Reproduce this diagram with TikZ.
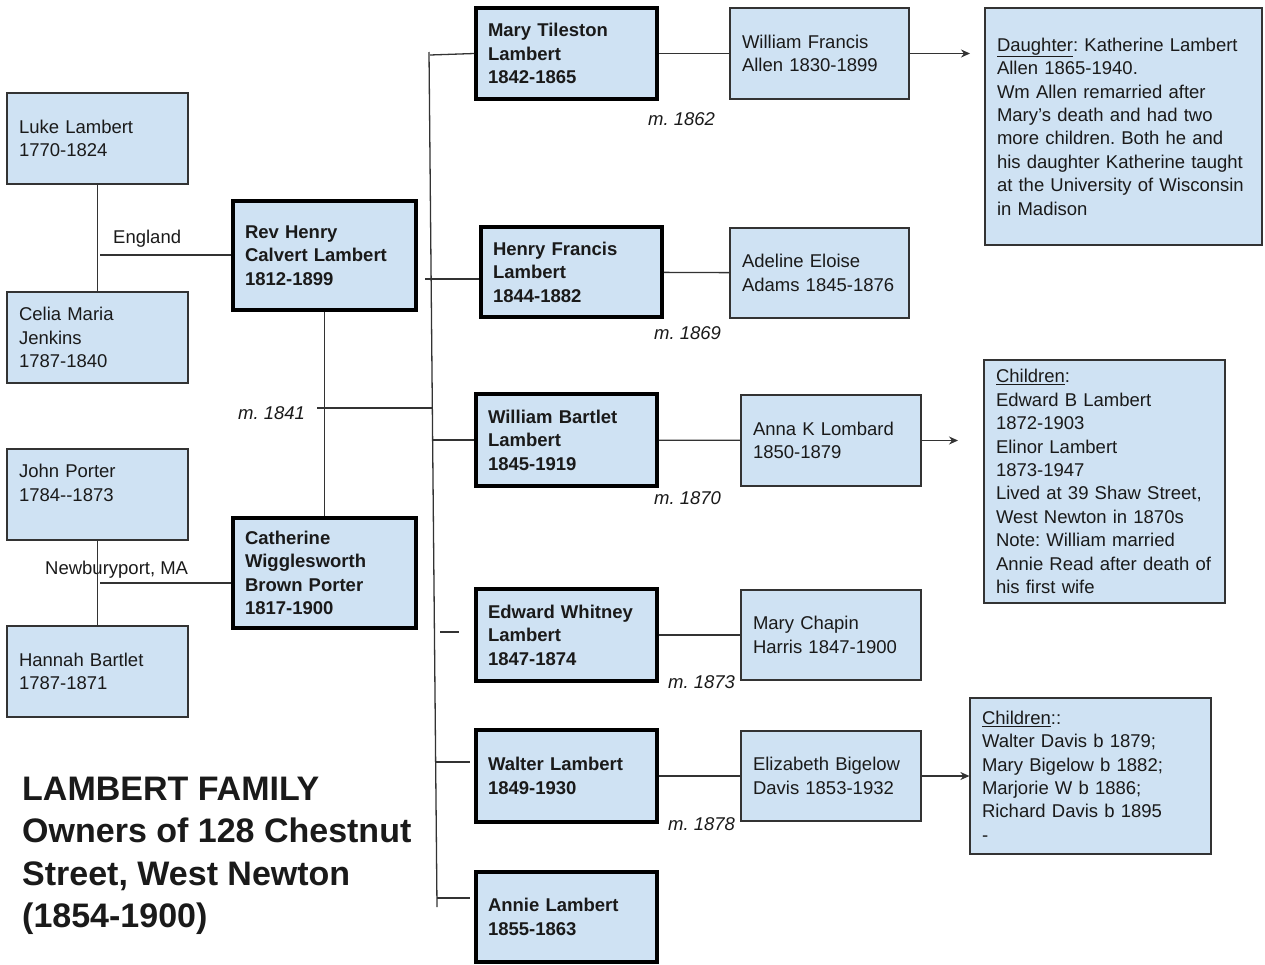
\documentclass[tikz,border=0pt]{standalone}
\usepackage{fontspec}
\setmainfont{Liberation Sans}
\usetikzlibrary{arrows.meta}
\definecolor{boxfill}{HTML}{CFE2F3}
\definecolor{ink}{HTML}{1A1A1A}
\definecolor{edge}{HTML}{333333}
\frenchspacing
\begin{document}
\frenchspacing
\begin{tikzpicture}[x=1pt,y=-1pt,
  every node/.style={text=ink},
  person/.style={draw=edge, line width=1.2pt, fill=boxfill, align=left,
    inner xsep=12pt, inner ysep=0pt, font=\fontsize{18.5}{23.4}\selectfont},
  kin/.style={person, draw=black, line width=3.5pt, font=\fontsize{18.5}{23.4}\selectfont\bfseries},
  sz/.style n args={3}{minimum width=#1pt, minimum height=#2pt, text width=#3pt},
  link/.style={draw=edge, line width=1.3pt},
  arrowlink/.style={link, -{Stealth[length=9pt,width=8pt]}},
  place/.style={font=\fontsize{18.5}{23.4}\selectfont, anchor=base west, inner sep=0pt},
  marr/.style={font=\fontsize{18.5}{23.4}\selectfont\itshape, anchor=base west, inner sep=0pt},
  titletext/.style={font=\fontsize{34}{42.3}\selectfont\bfseries, align=left, anchor=north west, inner sep=0pt}
]
\useasboundingbox (0,0) rectangle (1265,964);

% grandparents
\node[person, sz={181}{91}{157}] (luke) at (97.5,138.5) {Luke Lambert\\1770-1824};
\node[person, sz={181}{91}{157}] (celia) at (97.5,337.5) {Celia Maria\\Jenkins\\1787-1840};
\node[person, sz={181}{91}{157}] (john) at (97.5,494.5) {John Porter\\1784-{}-1873\\~};
\node[person, sz={181}{91}{157}] (hannah) at (97.5,671.5) {Hannah Bartlet\\1787-1871};

% parents
\node[kin, sz={183}{109}{159}] (rev) at (324.5,255.5) {Rev Henry\\Calvert Lambert\\1812-1899};
\node[kin, sz={183}{110}{159}] (cath) at (324.5,573) {Catherine\\Wigglesworth\\Brown Porter\\1817-1900};

% children
\node[kin, sz={181}{91}{157}] (mary) at (566.5,53.5) {Mary Tileston\\Lambert\\1842-1865};
\node[kin, sz={181}{90}{157}] (hf) at (571.5,272) {Henry Francis\\Lambert\\1844-1882};
\node[kin, sz={181}{92}{157}] (wb) at (566.5,440) {William Bartlet\\Lambert\\1845-1919};
\node[kin, sz={181}{92}{157}] (ew) at (566.5,635) {Edward Whitney\\Lambert\\1847-1874};
\node[kin, sz={181}{92}{157}] (walter) at (566.5,776) {Walter Lambert\\1849-1930};
\node[kin, sz={181}{90}{157}] (annie) at (566.5,917) {Annie Lambert\\1855-1863};

% spouses
\node[person, sz={179}{91}{155}] (wfa) at (819.5,53.5) {William Francis\\Allen 1830-1899};
\node[person, sz={179}{90}{155}] (adeline) at (819.5,273) {Adeline Eloise\\Adams 1845-1876};
\node[person, sz={180}{91}{156}] (anna) at (831,440.5) {Anna K Lombard\\1850-1879};
\node[person, sz={180}{90}{156}] (mch) at (831,635) {Mary Chapin\\Harris 1847-1900};
\node[person, sz={180}{90}{156}] (eliz) at (831,776) {Elizabeth Bigelow\\Davis 1853-1932};

% notes
\node[person, sz={277}{237}{253}] (daughter) at (1123.5,126.5) {\underline{Daughter}: Katherine Lambert\\Allen 1865-1940.\\Wm Allen remarried after\\Mary’s death and had two\\more children. Both he and\\his daughter Katherine taught\\at the University of Wisconsin\\in Madison};
\node[person, sz={241}{243}{217}] (kids1) at (1104.5,481.5) {\underline{Children}:\\Edward B Lambert\\1872-1903\\Elinor Lambert\\1873-1947\\Lived at 39 Shaw Street,\\West Newton in 1870s\\Note: William married\\Annie Read after death of\\his first wife};
\node[person, sz={241}{156}{217}] (kids2) at (1090.5,776) {\underline{Children}::\\Walter Davis b 1879;\\Mary Bigelow b 1882;\\Marjorie W b 1886;\\Richard Davis b 1895\\-};

% labels
\node[place] (lengland) at (113,243) {England};
\node[place] (lnewbury) at (45,574) {Newburyport, MA};
\node[marr] (m1841) at (238,419) {m. 1841};
\node[marr] (m1862) at (648,125) {m. 1862};
\node[marr] (m1869) at (654,339) {m. 1869};
\node[marr] (m1870) at (654,504) {m. 1870};
\node[marr] (m1873) at (668,688) {m. 1873};
\node[marr] (m1878) at (668,830) {m. 1878};

\node[titletext] (title) at (22,777) {LAMBERT FAMILY\\Owners of 128 Chestnut\\Street, West Newton\\(1854-1900)};

% parent connectors
\draw[link] (luke) -- (celia);
\draw[link] (john) -- (hannah);
\coordinate (eng) at (100,255);
\draw[link] (eng) -- (eng -| rev.west);
\coordinate (nb) at (100,583);
\draw[link] (nb) -- (nb -| cath.west);
\draw[link] (rev) -- (cath);

% trunk
\coordinate (ttop) at (429,52);
\coordinate (tbot) at (437,907);
\draw[link] (ttop) -- (tbot);
\coordinate (m41a) at (317,408);
\coordinate (m41b) at (432,408);
\draw[link] (m41a) -- (m41b);
\coordinate (bm) at (430,55);
\draw[link] (bm) -- (mary.west);
\coordinate (bh) at (425,279);
\draw[link] (bh) -- (bh -| hf.west);
\coordinate (bw) at (433,440);
\draw[link] (bw) -- (wb.west);
\coordinate (be1) at (440,632);
\coordinate (be2) at (459,632);
\draw[link] (be1) -- (be2);
\coordinate (bwa1) at (436,762);
\coordinate (bwa2) at (470,762);
\draw[link] (bwa1) -- (bwa2);
\coordinate (ban1) at (437,898);
\coordinate (ban2) at (470,898);
\draw[link] (ban1) -- (ban2);

% marriages
\draw[link] (mary) -- (wfa);
\draw[link] (hf) -- (adeline);
\draw[link] (wb) -- (anna);
\draw[link] (ew) -- (mch);
\draw[link] (walter) -- (eliz);

% arrows to notes
\coordinate (a1) at (970,53.5);
\draw[arrowlink] (wfa) -- (a1);
\coordinate (a2) at (958,440.5);
\draw[arrowlink] (anna) -- (a2);
\draw[arrowlink] (eliz) -- (kids2);
\end{tikzpicture}
\end{document}
